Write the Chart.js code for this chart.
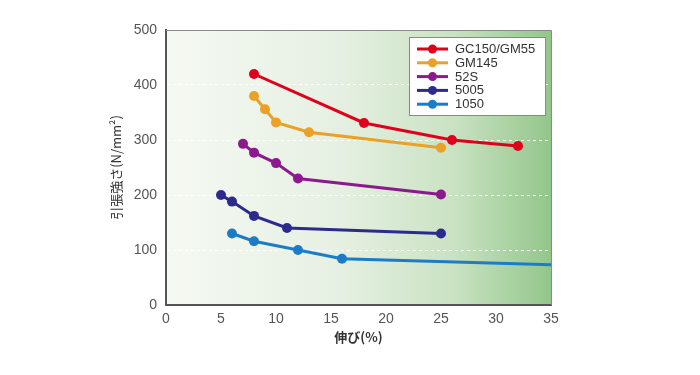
<!DOCTYPE html>
<html>
<head>
<meta charset="utf-8">
<script src="https://cdn.jsdelivr.net/npm/chart.js@4.4.0/dist/chart.umd.min.js"></script>
<style>
  html, body { margin: 0; padding: 0; background: #fff; }
</style>
</head>
<body>
<canvas id="chartStrength" width="700" height="375"></canvas>
<script>
const seriesNames = ["GC150/GM55", "GM145", "52S", "5005", "1050"];
const seriesColors = ["#e0001b", "#eba126", "#8c1a8e", "#2c2a8c", "#1c7cc8"];

const gc150X = [8, 18, 26, 32];
const gc150Y = [420, 331, 300, 289];
const gm145X = [8, 9, 10, 13, 25];
const gm145Y = [380, 356, 332, 314, 286];
const s52X = [7, 8, 10, 12, 25];
const s52Y = [293, 277, 258, 230, 201];
const a5005X = [5, 6, 8, 11, 25];
const a5005Y = [200, 188, 162, 140, 130];
const a1050X = [6, 8, 12, 16, 35];
const a1050Y = [130, 116, 100, 84, 73];

const xTicks = [0, 5, 10, 15, 20, 25, 30, 35];
const yTicks = [0, 100, 200, 300, 400, 500];

const allX = [gc150X, gm145X, s52X, a5005X, a1050X];
const allY = [gc150Y, gm145Y, s52Y, a5005Y, a1050Y];

const datasets = seriesNames.map((name, i) => ({
  label: name,
  data: allX[i].map((x, j) => ({ x: x, y: allY[i][j] })),
  borderColor: seriesColors[i],
  backgroundColor: seriesColors[i],
  borderWidth: 3,
  pointRadius: name == "1050" ? [5, 5, 5, 5, 0] : 5,
  pointBorderWidth: 0,
  showLine: true,
  tension: 0,
}));

// plot background + frame
const frame = {
  id: "frame",
  beforeDraw(chart) {
    const { ctx, chartArea: a } = chart;
    const g = ctx.createLinearGradient(a.left, 0, a.right, 0);
    g.addColorStop(0, "#f5f9f3");
    g.addColorStop(0.45, "#e6f0e2");
    g.addColorStop(0.75, "#c9e2c2");
    g.addColorStop(1, "#93c68b");
    ctx.save();
    ctx.fillStyle = g;
    ctx.fillRect(a.left, a.top, a.right - a.left, a.bottom - a.top);
    ctx.restore();
  },
  afterDatasetsDraw(chart) {
    const { ctx, chartArea: a } = chart;
    ctx.save();
    ctx.strokeStyle = "#8a8a8a";
    ctx.lineWidth = 1;
    ctx.beginPath();
    ctx.moveTo(a.left, a.top + 0.5);
    ctx.lineTo(a.right + 0.5, a.top + 0.5);
    ctx.lineTo(a.right + 0.5, a.bottom);
    ctx.stroke();
    ctx.restore();
  },
};

// legend box inside the plot
const boxLegend = {
  id: "boxLegend",
  afterDraw(chart) {
    const ctx = chart.ctx;
    const x0 = 409.5, y0 = 37.5, w = 136, h = 78;
    ctx.save();
    ctx.fillStyle = "#fff";
    ctx.fillRect(x0, y0, w, h);
    ctx.strokeStyle = "#8a8a8a";
    ctx.lineWidth = 1;
    ctx.strokeRect(x0, y0, w, h);
    ctx.font = "13px 'Liberation Sans', Arial, sans-serif";
    ctx.textBaseline = "middle";
    chart.data.datasets.forEach((ds, i) => {
      const y = 49 + i * 13.8;
      ctx.strokeStyle = ds.borderColor;
      ctx.lineWidth = 3;
      ctx.beginPath();
      ctx.moveTo(417, y);
      ctx.lineTo(448, y);
      ctx.stroke();
      ctx.fillStyle = ds.borderColor;
      ctx.beginPath();
      ctx.arc(432.5, y, 4.5, 0, Math.PI * 2);
      ctx.fill();
      ctx.fillStyle = "#333";
      ctx.fillText(ds.label, 455, y + 0.5);
    });
    ctx.restore();
  },
};

const chartStrength = document.getElementById("chartStrength").getContext("2d");
new Chart(chartStrength, {
  type: "scatter",
  data: { datasets: datasets },
  plugins: [frame, boxLegend],
  options: {
    responsive: false,
    animation: false,
    devicePixelRatio: 1,
    layout: { padding: { left: 104, right: 149, top: 30, bottom: 25 } },
    plugins: {
      legend: { display: false },
      tooltip: { enabled: false },
    },
    scales: {
      x: {
        type: "linear",
        min: 0,
        max: 35,
        afterBuildTicks: (s) => { s.ticks = xTicks.map((v) => ({ value: v })); },
        afterFit: (s) => { s.height = 45; },
        grid: { display: false, drawTicks: false },
        border: { color: "#555", width: 2 },
        ticks: {
          color: "#555",
          padding: 6,
          font: { family: "'Liberation Sans', Arial, sans-serif", size: 14 },
        },
        title: {
          display: true,
          text: "伸び(%)",
          color: "#333",
          padding: { top: 0, bottom: 5 },
          font: { family: "'Noto Sans CJK JP', sans-serif", size: 13, weight: "bold" },
        },
      },
      y: {
        type: "linear",
        min: 0,
        max: 500,
        afterBuildTicks: (s) => { s.ticks = yTicks.map((v) => ({ value: v })); },
        afterFit: (s) => { s.width = 62; },
        grid: {
          drawTicks: false,
          color: (c) => (c.tick && c.tick.value > 0 && c.tick.value < 500 ? "rgba(255,255,255,0.95)" : "rgba(0,0,0,0)"),
          lineWidth: 1,
        },
        border: { color: "#555", width: 2, dash: [3, 3] },
        ticks: {
          color: "#555",
          padding: 9,
          font: { family: "'Liberation Sans', Arial, sans-serif", size: 14 },
        },
        title: {
          display: true,
          text: "引張強さ(N/mm²)",
          color: "#333",
          padding: { top: 4, bottom: 0 },
          font: { family: "'Noto Sans CJK JP', sans-serif", size: 13 },
        },
      },
    },
  },
});
</script>
</body>
</html>
